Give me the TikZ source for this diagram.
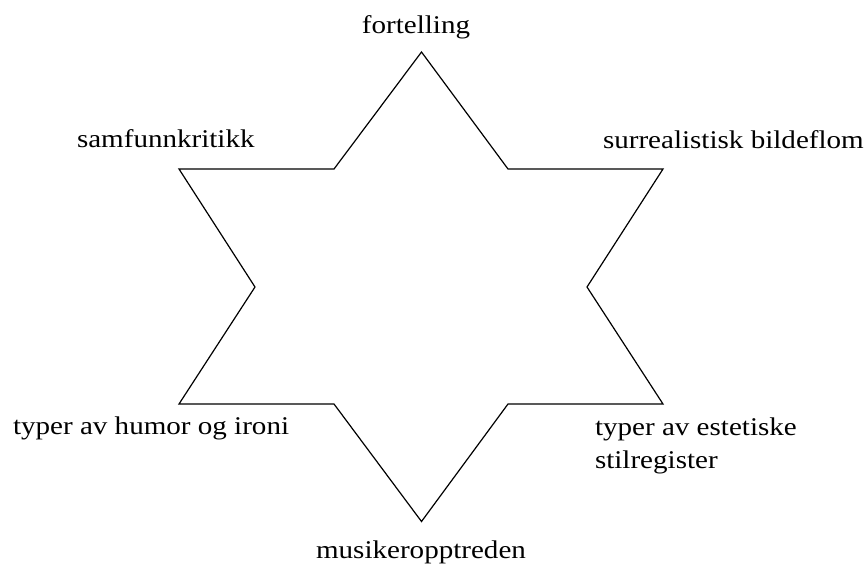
\documentclass[tikz,border=0pt]{standalone}
\usepackage{fontspec}
\setmainfont[FakeStretch=1.14]{Liberation Serif}
\begin{document}
\begin{tikzpicture}[x=1pt,y=-1pt,
  lbl/.style={inner sep=0pt,outer sep=0pt,font=\fontsize{25.5}{33}\selectfont,text=black},
  starline/.style={draw=black,line width=1.2pt,line join=miter}]
\useasboundingbox (0,0) rectangle (864,563);
% star outline
\draw[starline] (421.5,52) -- (508,169) -- (663,169) -- (587,287) -- (663,404)
  -- (508,404) -- (421.5,521.5) -- (334,404) -- (179,404) -- (255,287)
  -- (179,169) -- (334,169) -- cycle;
% labels
\node[lbl,anchor=base] (fort) at (416,33) {fortelling};
\node[lbl,anchor=base west] (samf) at (77,147) {samfunnkritikk};
\node[lbl,anchor=base west] (surr) at (603,148) {surrealistisk bildeflom};
\node[lbl,anchor=base west] (humor) at (13,434.5) {typer av humor og ironi};
\node[lbl,anchor=base west,align=left] (estet) at (595,468) {typer av estetiske\\stilregister};
\node[lbl,anchor=base] (musik) at (421,558) {musikeropptreden};
\end{tikzpicture}
\end{document}
